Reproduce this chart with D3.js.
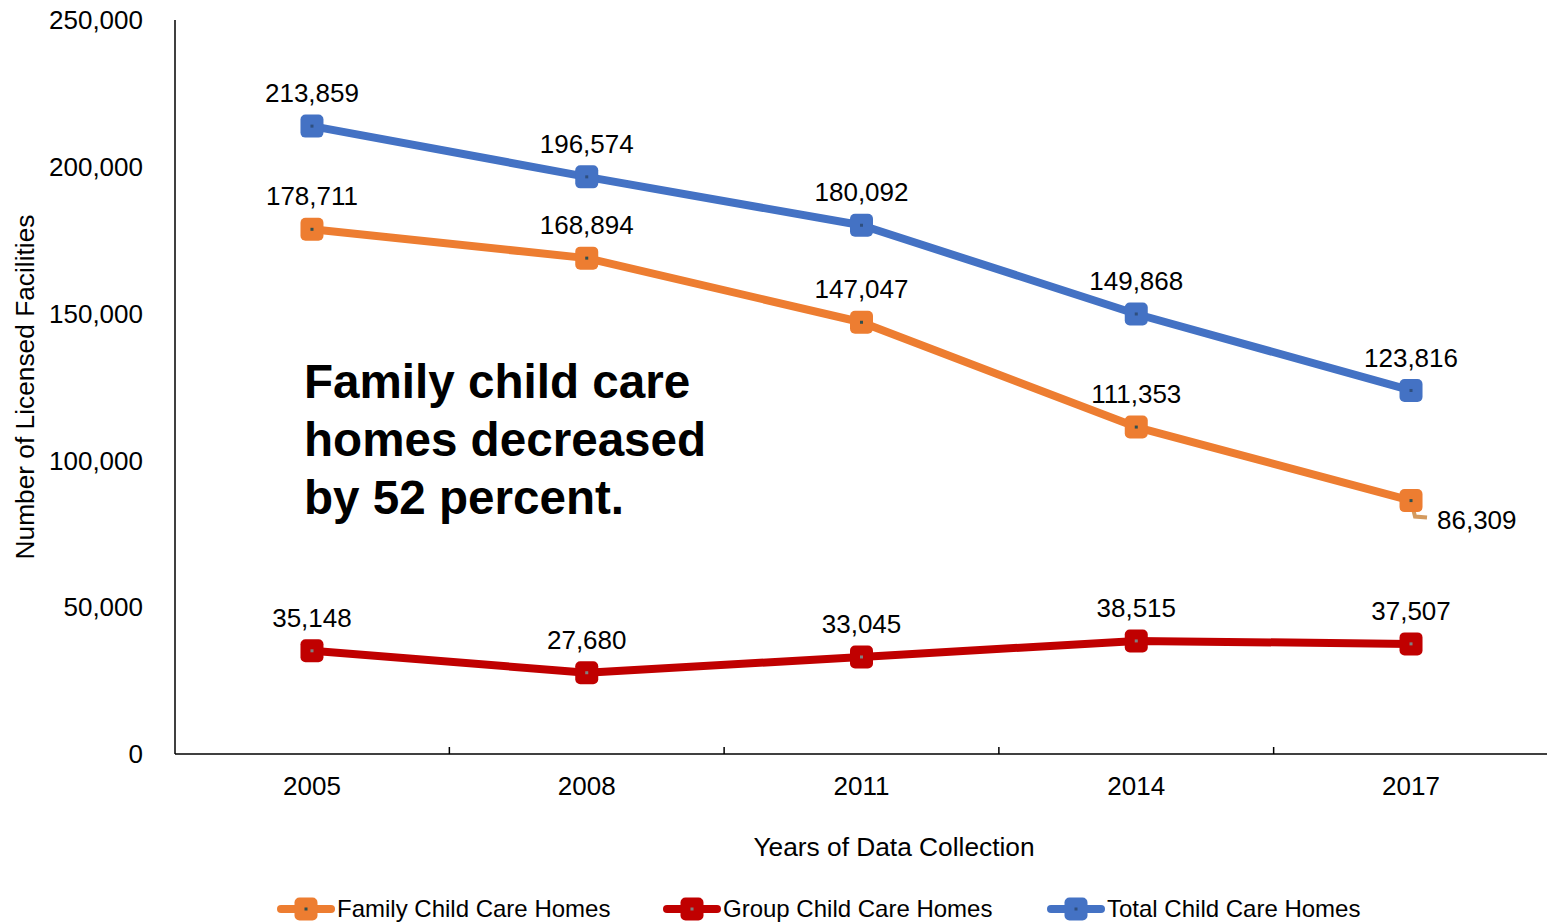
<!DOCTYPE html>
<html>
<head>
<meta charset="utf-8">
<script src="https://cdn.jsdelivr.net/npm/d3@7"></script>
<style>
  body { margin: 0; background: #fff; }
  svg { display: block; font-family: "Liberation Sans", Arial, sans-serif; }
</style>
</head>
<body>
<svg id="chart"></svg>
<script>
const years = ['2005', '2008', '2011', '2014', '2017']
const familyHomes = [178711, 168894, 147047, 111353, 86309]
const groupHomes = [35148, 27680, 33045, 38515, 37507]
const totalHomes = [213859, 196574, 180092, 149868, 123816]
const yTicks = [0, 50000, 100000, 150000, 200000, 250000]

const seriesList = [
  {name: 'Family Child Care Homes', values: familyHomes, color: '#ED7D31', dot: '#2F4F4F'},
  {name: 'Group Child Care Homes', values: groupHomes, color: '#C00000', dot: '#808080'},
  {name: 'Total Child Care Homes', values: totalHomes, color: '#4472C4', dot: '#2F4F7F'}
]

const width = 1547, height = 923
const plotLeft = 175, plotRight = 1547, plotTop = 20, plotBottom = 754

const svg = d3.select('#chart').attr('width', width).attr('height', height)

// band range runs a touch past the right edge, like the original
const x = d3.scaleBand().domain(years).range([174.6, 1548.4])
const y = d3.scaleLinear().domain([0, 250000]).range([plotBottom, plotTop])
const fmt = d3.format(',')
const cx = d => x(d) + x.bandwidth() / 2

// axes
svg.append('line')
  .attr('x1', plotLeft).attr('x2', plotLeft).attr('y1', plotTop).attr('y2', plotBottom)
  .attr('stroke', '#000').attr('stroke-width', 1.5)
svg.append('line')
  .attr('x1', plotLeft).attr('x2', plotRight).attr('y1', plotBottom).attr('y2', plotBottom)
  .attr('stroke', '#000').attr('stroke-width', 1.5)

// inner ticks between categories
svg.append('g').selectAll('line')
  .data(years.slice(1))
  .join('line')
  .attr('x1', d => x(d)).attr('x2', d => x(d))
  .attr('y1', plotBottom).attr('y2', plotBottom - 7)
  .attr('stroke', '#000').attr('stroke-width', 1.5)

svg.append('g').selectAll('text')
  .data(yTicks)
  .join('text')
  .attr('x', plotLeft - 32)
  .attr('y', d => y(d))
  .attr('dy', '0.35em')
  .attr('text-anchor', 'end')
  .attr('font-size', 26)
  .text(d => fmt(d))

svg.append('g').selectAll('text')
  .data(years)
  .join('text')
  .attr('x', d => cx(d))
  .attr('y', 786)
  .attr('dy', '0.35em')
  .attr('text-anchor', 'middle')
  .attr('font-size', 26)
  .text(d => d)

svg.append('text')
  .attr('x', 894).attr('y', 847).attr('dy', '0.35em')
  .attr('text-anchor', 'middle').attr('font-size', 26.3)
  .text('Years of Data Collection')

svg.append('text')
  .attr('transform', 'translate(25, 387) rotate(-90)')
  .attr('dy', '0.35em')
  .attr('text-anchor', 'middle').attr('font-size', 26.3)
  .text('Number of Licensed Facilities')

// annotation
const note = svg.append('text')
  .attr('font-size', 47.6).attr('font-weight', 'bold')
;['Family child care', 'homes decreased', 'by 52 percent.'].forEach((t, i) => {
  note.append('tspan').attr('x', 304).attr('y', 398 + i * 58).text(t)
})

const line = d3.line()
  .x((d, i) => cx(years[i]))
  .y(d => y(d))

// leader line for 86,309 label
const lastX = cx('2017')
const lastY = y(familyHomes[4])
svg.append('path')
  .attr('d', `M${lastX},${lastY} L${lastX + 4},${lastY + 16} L${lastX + 16},${lastY + 17}`)
  .attr('fill', 'none').attr('stroke', '#D49A5E').attr('stroke-width', 4)

seriesList.forEach(s => {
  const g = svg.append('g')
  g.append('path')
    .datum(s.values)
    .attr('d', line)
    .attr('fill', 'none')
    .attr('stroke', s.color)
    .attr('stroke-width', 8)
    .attr('stroke-linejoin', 'round')

  const pts = g.selectAll('g.pt')
    .data(s.values)
    .join('g')
    .attr('transform', (d, i) => `translate(${cx(years[i])}, ${y(d)})`)
  pts.append('rect')
    .attr('x', -11.5).attr('y', -11.5).attr('width', 23).attr('height', 23)
    .attr('rx', 5).attr('fill', s.color)
  pts.append('rect')
    .attr('x', -1.5).attr('y', -1.5).attr('width', 3).attr('height', 3)
    .attr('fill', s.dot)
})

// data labels
seriesList.forEach(s => {
  const isFam = s.values === familyHomes
  svg.append('g').selectAll('text')
    .data(s.values)
    .join('text')
    .attr('x', (d, i) => (isFam && i === 4) ? lastX + 26 : cx(years[i]))
    .attr('y', (d, i) => (isFam && i === 4) ? lastY + 19 : y(d) - 33)
    .attr('dy', '0.35em')
    .attr('text-anchor', (d, i) => (isFam && i === 4) ? 'start' : 'middle')
    .attr('font-size', 26)
    .text(d => fmt(d))
})

// legend
const legendX = [277, 663, 1047]
const legend = svg.append('g').selectAll('g')
  .data(seriesList)
  .join('g')
  .attr('transform', (d, i) => `translate(${legendX[i]}, 909)`)
legend.append('line')
  .attr('x1', 4).attr('x2', 54).attr('y1', 0).attr('y2', 0)
  .attr('stroke', d => d.color).attr('stroke-width', 8).attr('stroke-linecap', 'round')
legend.append('rect')
  .attr('x', 29 - 11.5).attr('y', -11.5).attr('width', 23).attr('height', 23)
  .attr('rx', 5).attr('fill', d => d.color)
legend.append('rect')
  .attr('x', 27.5).attr('y', -1.5).attr('width', 3).attr('height', 3)
  .attr('fill', d => d.dot)
legend.append('text')
  .attr('x', 60).attr('y', 0).attr('dy', '0.35em')
  .attr('font-size', 24)
  .text(d => d.name)
</script>
</body>
</html>
